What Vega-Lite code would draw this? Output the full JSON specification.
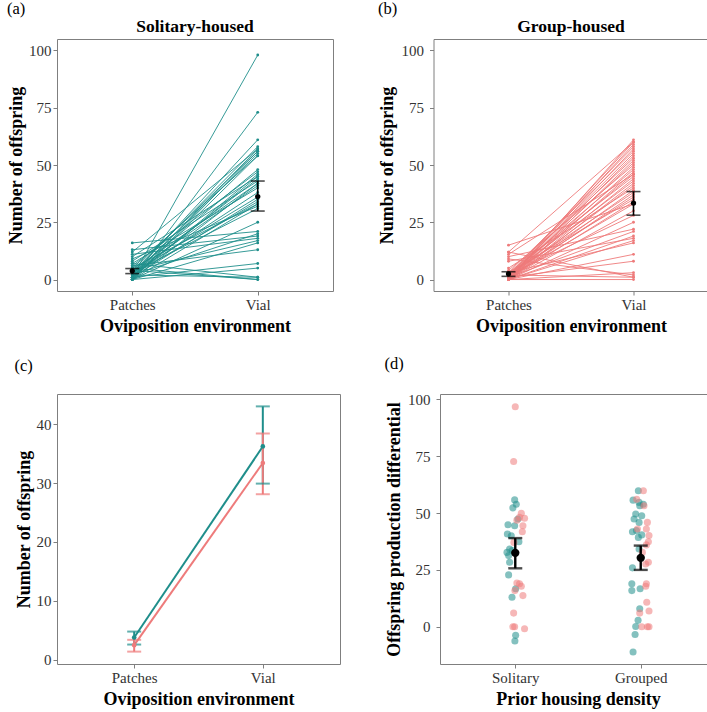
{
  "$schema": "https://vega.github.io/schema/vega-lite/v6.json",
  "padding": {"left": 7, "top": 0, "right": 0, "bottom": 0},
  "datasets": {
    "solitary": [
      {"id":1,"Patches":1,"Vial":98},{"id":2,"Patches":0,"Vial":73},{"id":3,"Patches":2,"Vial":61},{"id":4,"Patches":3,"Vial":58},
      {"id":5,"Patches":1,"Vial":57},{"id":6,"Patches":0,"Vial":56},{"id":7,"Patches":4,"Vial":56},{"id":8,"Patches":2,"Vial":55},
      {"id":9,"Patches":5,"Vial":54},{"id":10,"Patches":0,"Vial":54},{"id":11,"Patches":3,"Vial":48},{"id":12,"Patches":6,"Vial":47},
      {"id":13,"Patches":1,"Vial":45},{"id":14,"Patches":2,"Vial":44},{"id":15,"Patches":8,"Vial":43},{"id":16,"Patches":0,"Vial":42},
      {"id":17,"Patches":4,"Vial":42},{"id":18,"Patches":3,"Vial":41},{"id":19,"Patches":7,"Vial":40},{"id":20,"Patches":1,"Vial":35},
      {"id":21,"Patches":2,"Vial":34},{"id":22,"Patches":5,"Vial":33},{"id":23,"Patches":0,"Vial":33},{"id":24,"Patches":9,"Vial":32},
      {"id":25,"Patches":3,"Vial":31},{"id":26,"Patches":16,"Vial":21},{"id":27,"Patches":13,"Vial":19},{"id":28,"Patches":2,"Vial":20},
      {"id":29,"Patches":11,"Vial":18},{"id":30,"Patches":4,"Vial":17},{"id":31,"Patches":0,"Vial":16},{"id":32,"Patches":6,"Vial":13},
      {"id":33,"Patches":1,"Vial":7},{"id":34,"Patches":0,"Vial":5},{"id":35,"Patches":7,"Vial":1},{"id":36,"Patches":5,"Vial":0},
      {"id":37,"Patches":2,"Vial":1},{"id":38,"Patches":10,"Vial":45},{"id":39,"Patches":3,"Vial":36},{"id":40,"Patches":1,"Vial":46},
      {"id":41,"Patches":2,"Vial":38},{"id":42,"Patches":0,"Vial":25},{"id":43,"Patches":4,"Vial":0},{"id":44,"Patches":12,"Vial":57}
    ],
    "grouped": [
      {"id":1,"Patches":0,"Vial":61},{"id":2,"Patches":1,"Vial":60},{"id":3,"Patches":0,"Vial":59},{"id":4,"Patches":2,"Vial":58},
      {"id":5,"Patches":0,"Vial":57},{"id":6,"Patches":3,"Vial":56},{"id":7,"Patches":1,"Vial":55},{"id":8,"Patches":0,"Vial":54},
      {"id":9,"Patches":12,"Vial":60},{"id":10,"Patches":2,"Vial":53},{"id":11,"Patches":0,"Vial":52},{"id":12,"Patches":1,"Vial":51},
      {"id":13,"Patches":4,"Vial":50},{"id":14,"Patches":0,"Vial":49},{"id":15,"Patches":2,"Vial":48},{"id":16,"Patches":0,"Vial":47},
      {"id":17,"Patches":1,"Vial":46},{"id":18,"Patches":3,"Vial":45},{"id":19,"Patches":0,"Vial":44},{"id":20,"Patches":11,"Vial":46},
      {"id":21,"Patches":2,"Vial":43},{"id":22,"Patches":0,"Vial":42},{"id":23,"Patches":1,"Vial":41},{"id":24,"Patches":5,"Vial":40},
      {"id":25,"Patches":0,"Vial":39},{"id":26,"Patches":2,"Vial":38},{"id":27,"Patches":0,"Vial":37},{"id":28,"Patches":1,"Vial":36},
      {"id":29,"Patches":15,"Vial":33},{"id":30,"Patches":3,"Vial":35},{"id":31,"Patches":0,"Vial":34},{"id":32,"Patches":1,"Vial":33},
      {"id":33,"Patches":0,"Vial":30},{"id":34,"Patches":2,"Vial":28},{"id":35,"Patches":0,"Vial":25},{"id":36,"Patches":10,"Vial":22},
      {"id":37,"Patches":1,"Vial":21},{"id":38,"Patches":0,"Vial":19},{"id":39,"Patches":8,"Vial":18},{"id":40,"Patches":0,"Vial":17},
      {"id":41,"Patches":3,"Vial":16},{"id":42,"Patches":0,"Vial":11},{"id":43,"Patches":1,"Vial":8},{"id":44,"Patches":0,"Vial":3},
      {"id":45,"Patches":9,"Vial":2},{"id":46,"Patches":12,"Vial":1},{"id":47,"Patches":0,"Vial":0},{"id":48,"Patches":2,"Vial":1}
    ],
    "means": [
      {"housing":"Solitary","env":"Patches","mean":3.8,"lo":2.6,"hi":4.8},
      {"housing":"Solitary","env":"Vial","mean":36.2,"lo":29.9,"hi":43.0},
      {"housing":"Grouped","env":"Patches","mean":2.5,"lo":1.4,"hi":3.4},
      {"housing":"Grouped","env":"Vial","mean":33.4,"lo":28.1,"hi":38.4}
    ],
    "diff": [
      {"pos":0.995,"diff":55.8,"block":"A"},{"pos":1.008,"diff":53.9,"block":"A"},{"pos":0.981,"diff":52.3,"block":"A"},
      {"pos":0.942,"diff":44.9,"block":"A"},{"pos":0.937,"diff":40.8,"block":"A"},{"pos":0.968,"diff":40.0,"block":"A"},
      {"pos":0.995,"diff":44.4,"block":"A"},{"pos":0.955,"diff":34.2,"block":"A"},{"pos":0.976,"diff":33.5,"block":"A"},
      {"pos":0.947,"diff":31.3,"block":"A"},{"pos":0.955,"diff":28.4,"block":"A"},{"pos":0.947,"diff":22.8,"block":"A"},
      {"pos":1.003,"diff":16.7,"block":"A"},{"pos":0.974,"diff":13.0,"block":"A"},{"pos":1.003,"diff":-3.8,"block":"A"},
      {"pos":0.997,"diff":-6.3,"block":"A"},{"pos":1.029,"diff":37.4,"block":"A"},{"pos":0.934,"diff":32.7,"block":"A"},
      {"pos":1.021,"diff":47.4,"block":"A"},
      {"pos":1.0,"diff":96.8,"block":"B"},{"pos":0.987,"diff":72.7,"block":"B"},{"pos":1.048,"diff":49.9,"block":"B"},
      {"pos":1.034,"diff":48.1,"block":"B"},{"pos":1.074,"diff":47.7,"block":"B"},{"pos":1.013,"diff":46.9,"block":"B"},
      {"pos":1.061,"diff":44.4,"block":"B"},{"pos":1.056,"diff":41.8,"block":"B"},{"pos":0.989,"diff":37.1,"block":"B"},
      {"pos":1.034,"diff":18.9,"block":"B"},{"pos":1.048,"diff":17.8,"block":"B"},{"pos":1.013,"diff":19.2,"block":"B"},
      {"pos":1.061,"diff":13.7,"block":"B"},{"pos":0.987,"diff":6.0,"block":"B"},{"pos":0.995,"diff":0,"block":"B"},
      {"pos":0.981,"diff":0,"block":"B"},{"pos":1.074,"diff":-0.9,"block":"B"},{"pos":0.997,"diff":15.9,"block":"B"},
      {"pos":1.981,"diff":59.8,"block":"A"},{"pos":1.939,"diff":55.7,"block":"A"},{"pos":1.987,"diff":54.7,"block":"A"},
      {"pos":2.021,"diff":53.9,"block":"A"},{"pos":1.992,"diff":53.2,"block":"A"},{"pos":1.96,"diff":49.6,"block":"A"},
      {"pos":2.008,"diff":48.8,"block":"A"},{"pos":1.947,"diff":47.4,"block":"A"},{"pos":1.987,"diff":45.9,"block":"A"},
      {"pos":1.966,"diff":42.3,"block":"A"},{"pos":1.934,"diff":41.8,"block":"A"},{"pos":1.981,"diff":39.3,"block":"A"},
      {"pos":2.008,"diff":40.4,"block":"A"},{"pos":1.934,"diff":25.9,"block":"A"},{"pos":1.929,"diff":18.9,"block":"A"},
      {"pos":1.929,"diff":15.9,"block":"A"},{"pos":1.995,"diff":16.7,"block":"A"},{"pos":1.992,"diff":7.9,"block":"A"},
      {"pos":1.979,"diff":2.8,"block":"A"},{"pos":1.96,"diff":0.1,"block":"A"},{"pos":1.955,"diff":-3.4,"block":"A"},
      {"pos":1.939,"diff":-11.1,"block":"A"},{"pos":1.987,"diff":34.2,"block":"A"},
      {"pos":2.021,"diff":59.8,"block":"B"},{"pos":1.968,"diff":56.1,"block":"B"},{"pos":2.053,"diff":45.9,"block":"B"},
      {"pos":2.045,"diff":43.0,"block":"B"},{"pos":2.066,"diff":40.1,"block":"B"},{"pos":2.061,"diff":37.4,"block":"B"},
      {"pos":2.045,"diff":36.0,"block":"B"},{"pos":2.013,"diff":32.7,"block":"B"},{"pos":2.061,"diff":28.4,"block":"B"},
      {"pos":2.04,"diff":27.6,"block":"B"},{"pos":2.045,"diff":18.9,"block":"B"},{"pos":2.04,"diff":17.8,"block":"B"},
      {"pos":2.048,"diff":10.8,"block":"B"},{"pos":2.066,"diff":6.9,"block":"B"},{"pos":1.992,"diff":6.0,"block":"B"},
      {"pos":2.008,"diff":0,"block":"B"},{"pos":2.053,"diff":0,"block":"B"},{"pos":2.066,"diff":0,"block":"B"},
      {"pos":1.974,"diff":43.0,"block":"B"},{"pos":2.026,"diff":53.2,"block":"B"}
    ],
    "diffmeans": [
      {"pos":1,"mean":32.5,"lo":25.7,"hi":39.0},
      {"pos":2,"mean":30.3,"lo":25.0,"hi":35.7}
    ]
  },
  "vconcat": [
    {
      "spacing": 43.5,
      "hconcat": [
        {
          "title": {"text": "(a)", "anchor": "start", "frame": "bounds", "fontWeight": "normal", "fontSize": 16.5, "offset": 0},
          "vconcat": [
            {
              "width": 276, "height": 252,
              "title": {"text": "Solitary-housed", "fontSize": 17.5, "fontWeight": "bold", "offset": 4},
              "layer": [
                {
                  "data": {"name": "solitary"},
                  "transform": [{"fold": ["Patches", "Vial"], "as": ["env", "n"]}],
                  "mark": {"type": "line", "color": "#1F8E8B", "strokeWidth": 0.9},
                  "encoding": {
                    "x": {"field": "env", "type": "nominal", "scale": {"type": "point", "padding": 0.6}, "axis": {"title": "Oviposition environment", "labelAngle": 0}},
                    "y": {"field": "n", "type": "quantitative", "scale": {"domain": [-5, 105], "nice": false, "zero": false}, "axis": {"title": "Number of offspring", "values": [0, 25, 50, 75, 100], "labelPadding": 2, "titlePadding": 3}},
                    "detail": {"field": "id"}
                  }
                },
                {
                  "data": {"name": "solitary"},
                  "transform": [{"fold": ["Patches", "Vial"], "as": ["env", "n"]}],
                  "mark": {"type": "point", "filled": true, "color": "#1F8E8B", "size": 8, "opacity": 1},
                  "encoding": {
                    "x": {"field": "env", "type": "nominal"},
                    "y": {"field": "n", "type": "quantitative", "title": "Number of offspring"}
                  }
                },
                {
                  "data": {"name": "means"},
                  "transform": [{"filter": {"field": "housing", "equal": "Solitary"}}],
                  "mark": {"type": "rule", "color": "#000", "strokeWidth": 1.6},
                  "encoding": {
                    "x": {"field": "env", "type": "nominal"},
                    "y": {"field": "lo", "type": "quantitative", "title": "Number of offspring"},
                    "y2": {"field": "hi"}
                  }
                },
                {
                  "data": {"name": "means"},
                  "transform": [{"filter": {"field": "housing", "equal": "Solitary"}}],
                  "mark": {"type": "tick", "color": "#000", "size": 14, "thickness": 1.6},
                  "encoding": {
                    "x": {"field": "env", "type": "nominal"},
                    "y": {"field": "lo", "type": "quantitative", "title": "Number of offspring"}
                  }
                },
                {
                  "data": {"name": "means"},
                  "transform": [{"filter": {"field": "housing", "equal": "Solitary"}}],
                  "mark": {"type": "tick", "color": "#000", "size": 14, "thickness": 1.6},
                  "encoding": {
                    "x": {"field": "env", "type": "nominal"},
                    "y": {"field": "hi", "type": "quantitative", "title": "Number of offspring"}
                  }
                },
                {
                  "data": {"name": "means"},
                  "transform": [{"filter": {"field": "housing", "equal": "Solitary"}}],
                  "mark": {"type": "point", "filled": true, "color": "#000", "size": 28, "opacity": 1},
                  "encoding": {
                    "x": {"field": "env", "type": "nominal"},
                    "y": {"field": "mean", "type": "quantitative", "title": "Number of offspring"}
                  }
                }
              ]
            }
          ]
        },
        {
          "title": {"text": "(b)", "anchor": "start", "frame": "bounds", "fontWeight": "normal", "fontSize": 16.5, "offset": 0},
          "vconcat": [
            {
              "width": 275, "height": 252,
              "title": {"text": "Group-housed", "fontSize": 17.5, "fontWeight": "bold", "offset": 4},
              "layer": [
                {
                  "data": {"name": "grouped"},
                  "transform": [{"fold": ["Patches", "Vial"], "as": ["env", "n"]}],
                  "mark": {"type": "line", "color": "#EE7B7B", "strokeWidth": 0.9},
                  "encoding": {
                    "x": {"field": "env", "type": "nominal", "scale": {"type": "point", "padding": 0.6}, "axis": {"title": "Oviposition environment", "labelAngle": 0}},
                    "y": {"field": "n", "type": "quantitative", "scale": {"domain": [-5, 105], "nice": false, "zero": false}, "axis": {"title": "Number of offspring", "values": [0, 25, 50, 75, 100], "labelPadding": 6, "titlePadding": 4.5}},
                    "detail": {"field": "id"}
                  }
                },
                {
                  "data": {"name": "grouped"},
                  "transform": [{"fold": ["Patches", "Vial"], "as": ["env", "n"]}],
                  "mark": {"type": "point", "filled": true, "color": "#EE7B7B", "size": 8, "opacity": 1},
                  "encoding": {
                    "x": {"field": "env", "type": "nominal"},
                    "y": {"field": "n", "type": "quantitative", "title": "Number of offspring"}
                  }
                },
                {
                  "data": {"name": "means"},
                  "transform": [{"filter": {"field": "housing", "equal": "Grouped"}}],
                  "mark": {"type": "rule", "color": "#000", "strokeWidth": 1.6},
                  "encoding": {
                    "x": {"field": "env", "type": "nominal"},
                    "y": {"field": "lo", "type": "quantitative", "title": "Number of offspring"},
                    "y2": {"field": "hi"}
                  }
                },
                {
                  "data": {"name": "means"},
                  "transform": [{"filter": {"field": "housing", "equal": "Grouped"}}],
                  "mark": {"type": "tick", "color": "#000", "size": 14, "thickness": 1.6},
                  "encoding": {
                    "x": {"field": "env", "type": "nominal"},
                    "y": {"field": "lo", "type": "quantitative", "title": "Number of offspring"}
                  }
                },
                {
                  "data": {"name": "means"},
                  "transform": [{"filter": {"field": "housing", "equal": "Grouped"}}],
                  "mark": {"type": "tick", "color": "#000", "size": 14, "thickness": 1.6},
                  "encoding": {
                    "x": {"field": "env", "type": "nominal"},
                    "y": {"field": "hi", "type": "quantitative", "title": "Number of offspring"}
                  }
                },
                {
                  "data": {"name": "means"},
                  "transform": [{"filter": {"field": "housing", "equal": "Grouped"}}],
                  "mark": {"type": "point", "filled": true, "color": "#000", "size": 28, "opacity": 1},
                  "encoding": {
                    "x": {"field": "env", "type": "nominal"},
                    "y": {"field": "mean", "type": "quantitative", "title": "Number of offspring"}
                  }
                }
              ]
            }
          ]
        }
      ]
    },
    {
      "spacing": 43,
      "hconcat": [
        {
          "title": {"text": "(c)", "anchor": "start", "frame": "bounds", "fontWeight": "normal", "fontSize": 16.5, "offset": 19},
          "vconcat": [
            {
              "width": 283, "height": 270,
              "data": {"name": "means"},
              "layer": [
                {
                  "mark": {"type": "line", "strokeWidth": 2},
                  "encoding": {
                    "x": {"field": "env", "type": "nominal", "scale": {"type": "point", "padding": 0.6}, "axis": {"title": "Oviposition environment", "labelAngle": 0}},
                    "y": {"field": "mean", "type": "quantitative", "scale": {"domain": [-0.7, 45.1], "nice": false, "zero": false}, "axis": {"title": "Number of offspring", "values": [0, 10, 20, 30, 40], "labelPadding": 2, "titlePadding": 3}},
                    "color": {"field": "housing", "type": "nominal", "scale": {"domain": ["Solitary", "Grouped"], "range": ["#1F8E8B", "#EE7B7B"]}, "legend": null}
                  }
                },
                {
                  "mark": {"type": "rule", "strokeWidth": 2},
                  "encoding": {
                    "x": {"field": "env", "type": "nominal"},
                    "y": {"field": "lo", "type": "quantitative", "title": "Number of offspring"},
                    "y2": {"field": "hi"},
                    "color": {"field": "housing", "type": "nominal", "legend": null}
                  }
                },
                {
                  "mark": {"type": "tick", "size": 14, "thickness": 2},
                  "encoding": {
                    "x": {"field": "env", "type": "nominal"},
                    "y": {"field": "lo", "type": "quantitative", "title": "Number of offspring"},
                    "color": {"field": "housing", "type": "nominal", "legend": null}
                  }
                },
                {
                  "mark": {"type": "tick", "size": 14, "thickness": 2},
                  "encoding": {
                    "x": {"field": "env", "type": "nominal"},
                    "y": {"field": "hi", "type": "quantitative", "title": "Number of offspring"},
                    "color": {"field": "housing", "type": "nominal", "legend": null}
                  }
                },
                {
                  "mark": {"type": "point", "filled": true, "size": 22, "opacity": 1},
                  "encoding": {
                    "x": {"field": "env", "type": "nominal"},
                    "y": {"field": "mean", "type": "quantitative", "title": "Number of offspring"},
                    "color": {"field": "housing", "type": "nominal", "legend": null}
                  }
                }
              ]
            }
          ]
        },
        {
          "title": {"text": "(d)", "anchor": "start", "frame": "bounds", "fontWeight": "normal", "fontSize": 16.5, "offset": 19},
          "vconcat": [
            {
              "width": 276, "height": 270,
              "layer": [
                {
                  "data": {"name": "diff"},
                  "mark": {"type": "circle", "size": 50, "opacity": 0.55},
                  "encoding": {
                    "x": {"field": "pos", "type": "quantitative", "scale": {"domain": [0.4, 2.6], "nice": false, "zero": false}, "axis": {"title": "Prior housing density", "values": [1, 2], "grid": false, "labelExpr": "datum.value == 1 ? 'Solitary' : 'Grouped'"}},
                    "y": {"field": "diff", "type": "quantitative", "scale": {"domain": [-16.4, 102.4], "nice": false, "zero": false}, "axis": {"title": "Offspring production differential", "values": [0, 25, 50, 75, 100], "labelPadding": 6, "titlePadding": 4.5}},
                    "color": {"field": "block", "type": "nominal", "scale": {"domain": ["A", "B"], "range": ["#1F9995", "#EE7B7B"]}, "legend": null}
                  }
                },
                {
                  "data": {"name": "diffmeans"},
                  "mark": {"type": "rule", "color": "#000", "strokeWidth": 2.4},
                  "encoding": {
                    "x": {"field": "pos", "type": "quantitative", "title": "Prior housing density"},
                    "y": {"field": "lo", "type": "quantitative", "title": "Offspring production differential"},
                    "y2": {"field": "hi"}
                  }
                },
                {
                  "data": {"name": "diffmeans"},
                  "mark": {"type": "tick", "color": "#000", "size": 14, "thickness": 2.4, "orient": "horizontal"},
                  "encoding": {
                    "x": {"field": "pos", "type": "quantitative", "title": "Prior housing density"},
                    "y": {"field": "lo", "type": "quantitative", "title": "Offspring production differential"}
                  }
                },
                {
                  "data": {"name": "diffmeans"},
                  "mark": {"type": "tick", "color": "#000", "size": 14, "thickness": 2.4, "orient": "horizontal"},
                  "encoding": {
                    "x": {"field": "pos", "type": "quantitative", "title": "Prior housing density"},
                    "y": {"field": "hi", "type": "quantitative", "title": "Offspring production differential"}
                  }
                },
                {
                  "data": {"name": "diffmeans"},
                  "mark": {"type": "circle", "color": "#000", "size": 70, "opacity": 1},
                  "encoding": {
                    "x": {"field": "pos", "type": "quantitative", "title": "Prior housing density"},
                    "y": {"field": "mean", "type": "quantitative", "title": "Offspring production differential"}
                  }
                }
              ]
            }
          ]
        }
      ]
    }
  ],
  "spacing": 20,
  "config": {
    "font": "Liberation Serif",
    "view": {"stroke": "#7f7f7f", "strokeWidth": 1},
    "axis": {
      "domain": false, "grid": false, "ticks": true, "tickColor": "#7f7f7f", "tickSize": 4,
      "labelFont": "Liberation Serif", "labelFontSize": 15, "labelColor": "#333333",
      "titleFont": "Liberation Serif", "titleFontSize": 18, "titleFontWeight": "bold", "titleColor": "#000000"
    },
    "axisX": {"labelPadding": 2, "titlePadding": 5},
    "title": {"font": "Liberation Serif", "color": "#000000"}
  }
}
